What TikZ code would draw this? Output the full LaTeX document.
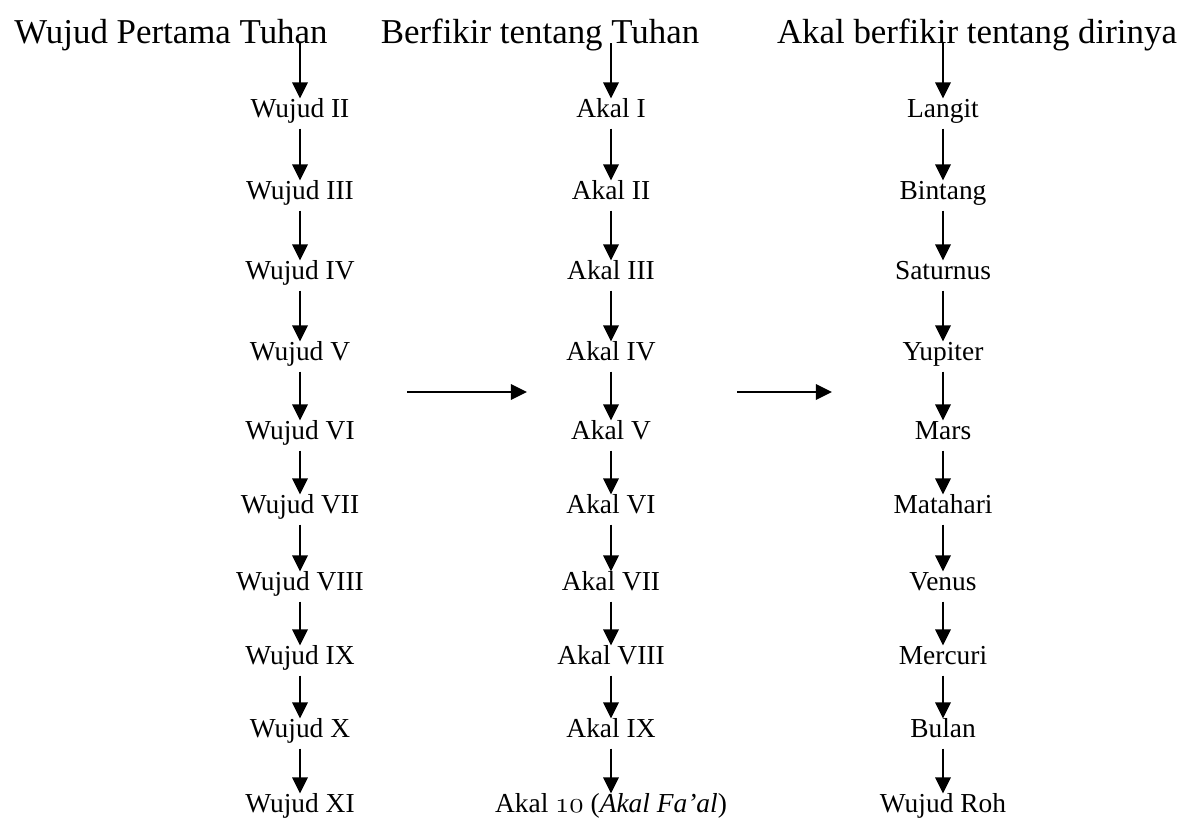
\documentclass[tikz,border=0pt]{standalone}
\usepackage{fontspec}
\setmainfont{Liberation Serif}
\usepackage{tikz}
\usetikzlibrary{arrows.meta}

\tikzset{
arr/.style={-{Triangle[length=11.5pt,width=11pt]},line width=1.4pt},
teks/.style={inner sep=0pt,text height=13pt,text depth=8pt,anchor=base,font=\fontsize{19.5}{21}\selectfont},
judul/.style={inner sep=0pt,anchor=base,font=\fontsize{24.8}{28}\selectfont}
}

\begin{document}
\begin{tikzpicture}[x=0.025cm,y=-0.025cm]
\useasboundingbox(0,0) rectangle (1179,818);
% judul
\node[judul](h1) at (171,43){Wujud Pertama Tuhan};
\node[judul](h2) at (540,43){Berfikir tentang Tuhan};
\node[judul](h3) at (977,43){Akal berfikir tentang dirinya};
% tiga kolom
\foreach \t/\y [count=\i] in {Wujud II/117,Wujud III/199,Wujud IV/279,Wujud V/360,Wujud VI/439,
  Wujud VII/513,Wujud VIII/590,Wujud IX/664,Wujud X/737,Wujud XI/812}
  \node[teks](w\i) at (300,\y){\t};
\foreach \t/\y [count=\i] in {Akal I/117,Akal II/199,Akal III/279,Akal IV/360,Akal V/439,
  Akal VI/513,Akal VII/590,Akal VIII/664,Akal IX/737,{Akal $\mathnormal{10}$ (\textit{Akal Fa’al})}/812}
  \node[teks](a\i) at (611,\y){\t};
\foreach \t/\y [count=\i] in {Langit/117,Bintang/199,Saturnus/279,Yupiter/360,Mars/439,
  Matahari/513,Venus/590,Mercuri/664,Bulan/737,Wujud Roh/812}
  \node[teks](b\i) at (943,\y){\t};
% panah
\draw[arr](h1.base -| w1) -- (w1);
\draw[arr](h2.base -| a1) -- (a1);
\draw[arr](h3.base -| b1) -- (b1);
\foreach \i in {2,...,10}{
  \pgfmathtruncatemacro\k{\i-1}
  \draw[arr](w\k) -- (w\i);
  \draw[arr](a\k) -- (a\i);
  \draw[arr](b\k) -- (b\i);
}
\coordinate (p1) at (407,392);
\coordinate (p2) at (527,392);
\coordinate (q1) at (737,392);
\coordinate (q2) at (832,392);
\draw[arr](p1) -- (p2);
\draw[arr](q1) -- (q2);
\end{tikzpicture}
\end{document}
